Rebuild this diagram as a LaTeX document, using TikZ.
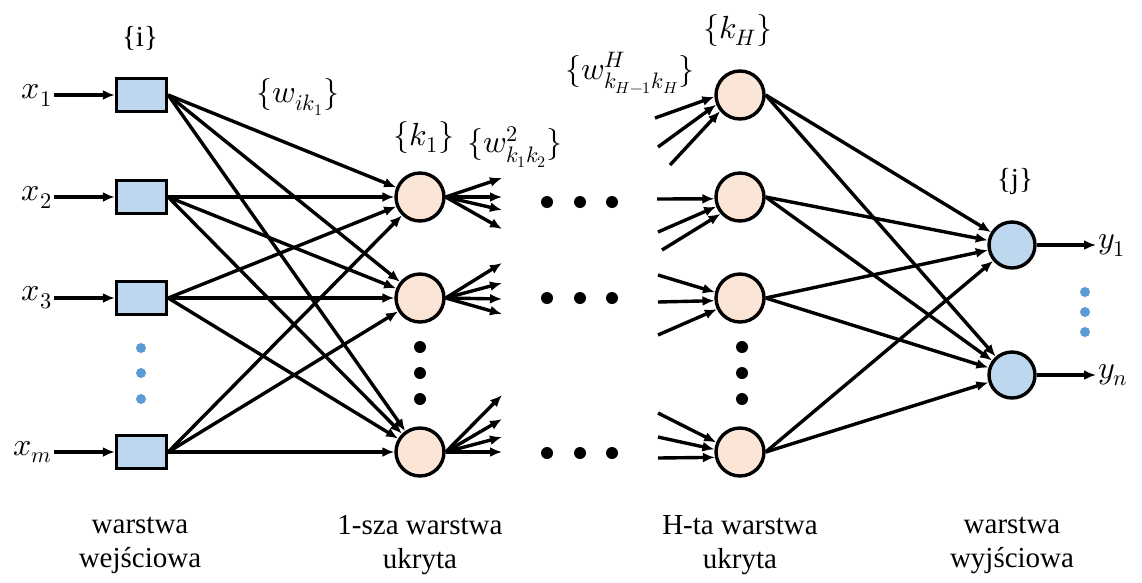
\documentclass[tikz,border=0pt]{standalone}
\usepackage{fontspec}
\usepackage{unicode-math}
\setmainfont{Liberation Serif}
\setmathfont{Latin Modern Math}
\usetikzlibrary{arrows.meta}
\definecolor{boxblue}{RGB}{189,215,238}
\definecolor{peach}{RGB}{251,229,214}
\definecolor{dotblue}{RGB}{91,155,213}
\begin{document}
\begin{tikzpicture}[x=1pt,y=-1pt,
  conn/.style={line width=3.4pt,-{Latex[length=12pt,width=10pt]}},
  inbox/.style={draw,line width=3.4pt,fill=boxblue,minimum width=50pt,minimum height=33pt,inner sep=0pt},
  hid/.style={circle,draw,line width=3.4pt,fill=peach,minimum size=48pt,inner sep=0pt},
  outn/.style={circle,draw,line width=3.4pt,fill=boxblue,minimum size=46pt,inner sep=0pt},
  lab/.style={font=\fontsize{29}{34}\selectfont,inner sep=2pt},
  mlab/.style={font=\fontsize{32}{38}\selectfont,inner sep=2pt},
  bottom/.style={font=\fontsize{29}{34}\selectfont,align=center},
  bdot/.style={fill=black},
  cdot/.style={fill=dotblue}]
\useasboundingbox (0,0) rectangle (1142,582);

% input boxes
\node[inbox] (b1) at (141.5,95) {};
\node[inbox] (b2) at (141.5,197) {};
\node[inbox] (b3) at (141.5,298) {};
\node[inbox] (b4) at (141.5,452) {};
% first hidden layer
\node[hid] (h1) at (420,197) {};
\node[hid] (h2) at (420,298) {};
\node[hid] (h3) at (420,452) {};
% H-th hidden layer
\node[hid] (g1) at (740,95) {};
\node[hid] (g2) at (740,197) {};
\node[hid] (g3) at (740,298) {};
\node[hid] (g4) at (740,452) {};
% output
\node[outn] (j1) at (1012,245) {};
\node[outn] (j2) at (1012,375) {};

% input labels
\node[mlab,anchor=east] (x1) at (54,95) {$x_1$};
\node[mlab,anchor=east] (x2) at (54,197) {$x_2$};
\node[mlab,anchor=east] (x3) at (54,298) {$x_3$};
\node[mlab,anchor=east] (x4) at (54,452) {$x_m$};
\foreach \i in {1,2,3,4} \draw[conn] (x\i.east) -- (b\i.west);

% output labels
\node[mlab,anchor=west] (y1) at (1096,245) {$y_1$};
\node[mlab,anchor=west] (y2) at (1096,375) {$y_n$};
\draw[conn] (j1.east) -- (y1.west);
\draw[conn] (j2.east) -- (y2.west);

% input -> first hidden
\foreach \i in {1,2,3,4}
  \foreach \k in {1,2,3}
    \draw[conn] (b\i.east) -- (h\k);

% first hidden fan-out
\coordinate (f11) at (502,178); \coordinate (f12) at (502,197);
\coordinate (f13) at (502,210); \coordinate (f14) at (502,229);
\coordinate (f21) at (502,263); \coordinate (f22) at (502,283);
\coordinate (f23) at (502,299); \coordinate (f24) at (502,314);
\coordinate (f31) at (502,395); \coordinate (f32) at (502,419);
\coordinate (f33) at (502,437); \coordinate (f34) at (502,452);
\foreach \k in {1,2,3}
  \foreach \m in {1,2,3,4}
    \draw[conn] (h\k.east) -- (f\k\m);

% incoming to H-th layer
\coordinate (e11) at (655,118); \coordinate (e12) at (658,147); \coordinate (e13) at (670,165);
\coordinate (e21) at (657,199); \coordinate (e22) at (658,232); \coordinate (e23) at (662,250);
\coordinate (e31) at (658,275); \coordinate (e32) at (658,302); \coordinate (e33) at (658,335);
\coordinate (e41) at (658,413); \coordinate (e42) at (658,437); \coordinate (e43) at (658,458);
\draw[conn] (e11) -- (g1.184); \draw[conn] (e12) -- (g1.202); \draw[conn] (e13) -- (g1.219);
\draw[conn] (e21) -- (g2.184); \draw[conn] (e22) -- (g2.202); \draw[conn] (e23) -- (g2.221);
\draw[conn] (e31) -- (g3.167); \draw[conn] (e32) -- (g3.186); \draw[conn] (e33) -- (g3.206);
\draw[conn] (e41) -- (g4.158); \draw[conn] (e42) -- (g4.174); \draw[conn] (e43) -- (g4.192);

% H-th hidden -> output
\foreach \k in {1,2,3,4}
  \foreach \j in {1,2}
    \draw[conn] (g\k.east) -- (j\j);

% dots
\foreach \y in {348,373,399} \fill[cdot] (141,\y) circle (5pt);
\foreach \y in {292,312,332} \fill[cdot] (1085,\y) circle (5pt);
\foreach \y in {347,373,399} {\fill[bdot] (420,\y) circle (6pt); \fill[bdot] (742,\y) circle (6pt);}
\foreach \x in {547,580,612} {\fill[bdot] (\x,202) circle (6pt); \fill[bdot] (\x,298) circle (6pt); \fill[bdot] (\x,453) circle (6pt);}

% set labels
\node[lab] (li) at (140,38) {\{i\}};
\node[mlab] (lw1) at (298,97) {$\{w_{ik_1}\}$};
\node[mlab] (lk1) at (424,137) {$\{k_1\}$};
\node[mlab] (lw2) at (515,147) {$\{w^2_{k_1k_2}\}$};
\node[mlab] (lwH) at (630,73) {$\{w^H_{k_{H-1}k_H}\}$};
\node[mlab] (lkH) at (738,30) {$\{k_H\}$};
\node[lab] (lj) at (1015,182) {\{j\}};

% layer names
\node[bottom] (n1) at (140,545) {warstwa\\wejściowa};
\node[bottom] (n2) at (420,545) {1-sza warstwa\\ukryta};
\node[bottom] (n3) at (740,545) {H-ta warstwa\\ukryta};
\node[bottom] (n4) at (1012,545) {warstwa\\wyjściowa};
\end{tikzpicture}
\end{document}
